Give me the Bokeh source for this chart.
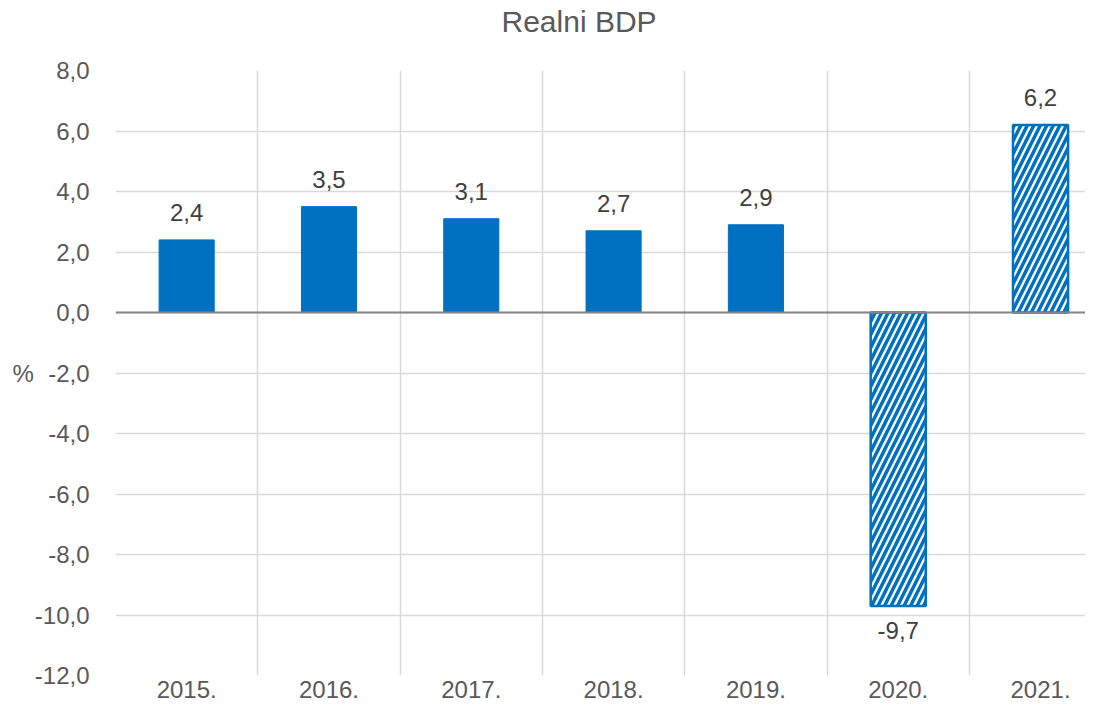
from bokeh.plotting import figure
from bokeh.models import ColumnDataSource, FixedTicker, Range1d, Span, Title
from bokeh.core.properties import value
from bokeh.embed import file_html
from bokeh.resources import INLINE

years = ["2015.", "2016.", "2017.", "2018.", "2019.", "2020.", "2021."]
gdp = [2.4, 3.5, 3.1, 2.7, 2.9, -9.7, 6.2]
forecast = [False, False, False, False, False, True, True]
y_ticks = [-12, -10, -8, -6, -4, -2, 0, 2, 4, 6, 8]

FONT = "Liberation Sans"
GREY = "#595959"
BLUE = "#0070C0"

xs = [i + 0.5 for i in range(len(years))]
labels = [f"{v:.1f}".replace(".", ",") for v in gdp]

solid = ColumnDataSource(dict(
    x=[x for x, f in zip(xs, forecast) if not f],
    top=[v for v, f in zip(gdp, forecast) if not f]))
hatched = ColumnDataSource(dict(
    x=[x for x, f in zip(xs, forecast) if f],
    top=[v for v, f in zip(gdp, forecast) if f]))
pos = ColumnDataSource(dict(
    x=[x for x, v in zip(xs, gdp) if v >= 0],
    y=[v for v in gdp if v >= 0],
    t=[l for l, v in zip(labels, gdp) if v >= 0]))
neg = ColumnDataSource(dict(
    x=[x for x, v in zip(xs, gdp) if v < 0],
    y=[v for v in gdp if v < 0],
    t=[l for l, v in zip(labels, gdp) if v < 0]))

p = figure(width=1085, height=708, output_backend="svg", toolbar_location=None,
           x_range=Range1d(0, 6.816), y_range=Range1d(y_ticks[0], y_ticks[-1]),
           min_border_left=115, min_border_right=0, min_border_top=70,
           min_border_bottom=33)
p.outline_line_color = None
p.background_fill_color = "white"
p.border_fill_color = "white"
p.title.text = ""
p.title.standoff = 0

# spacer between frame and title, then the title itself
p.add_layout(Title(text=" ", text_font_size="1px", standoff=30), "above")
p.add_layout(Title(text="Realni BDP", align="left", offset=386,
                   text_font=FONT, text_font_size="30px", text_font_style="normal",
                   text_color=GREY, standoff=0), "above")

# grids
p.ygrid.ticker = FixedTicker(ticks=y_ticks)
p.ygrid.grid_line_color = "#D9D9D9"
p.ygrid.grid_line_width = 1.5
p.xgrid.ticker = FixedTicker(ticks=list(range(len(years) + 1)))
p.xgrid.grid_line_color = "#D9D9D9"
p.xgrid.grid_line_width = 1.5

# axes
p.yaxis.ticker = FixedTicker(ticks=y_ticks)
p.yaxis.major_label_overrides = {t: f"{t:.1f}".replace(".", ",") for t in y_ticks}
p.xaxis.ticker = FixedTicker(ticks=xs)
p.xaxis.major_label_overrides = {x: y for x, y in zip(xs, years)}
for ax in (p.xaxis, p.yaxis):
    ax.axis_line_color = None
    ax.major_tick_line_color = None
    ax.minor_tick_line_color = None
    ax.major_tick_in = 0
    ax.major_tick_out = 0
    ax.minor_tick_in = 0
    ax.minor_tick_out = 0
    ax.major_label_text_font = FONT
    ax.major_label_text_font_size = "24px"
    ax.major_label_text_color = GREY
p.yaxis.major_label_standoff = 26
p.xaxis.major_label_standoff = 5
p.yaxis.axis_label = "%"
p.yaxis.axis_label_orientation = "horizontal"
p.yaxis.axis_label_standoff = -2
p.yaxis.axis_label_text_font = FONT
p.yaxis.axis_label_text_font_size = "24px"
p.yaxis.axis_label_text_font_style = "normal"
p.yaxis.axis_label_text_color = GREY

p.add_layout(Span(location=0, dimension="width", line_color="#868686", line_width=2))

p.vbar(x="x", top="top", bottom=0, width=0.387, source=solid,
       fill_color=BLUE, line_color=BLUE, line_width=1)
p.vbar(x="x", top="top", bottom=0, width=0.387, source=hatched,
       fill_color="white", line_color=BLUE, line_width=2.5,
       hatch_pattern="/", hatch_color=BLUE, hatch_scale=13, hatch_weight=3.5)

p.text(x="x", y="y", text="t", source=pos, text_align="center",
       text_baseline="bottom", y_offset=-19, text_font=value(FONT),
       text_font_size="24px", text_color="#404040")
p.text(x="x", y="y", text="t", source=neg, text_align="center",
       text_baseline="top", y_offset=16, text_font=value(FONT),
       text_font_size="24px", text_color="#404040")

open("out.html", "w").write(file_html(p, INLINE))
